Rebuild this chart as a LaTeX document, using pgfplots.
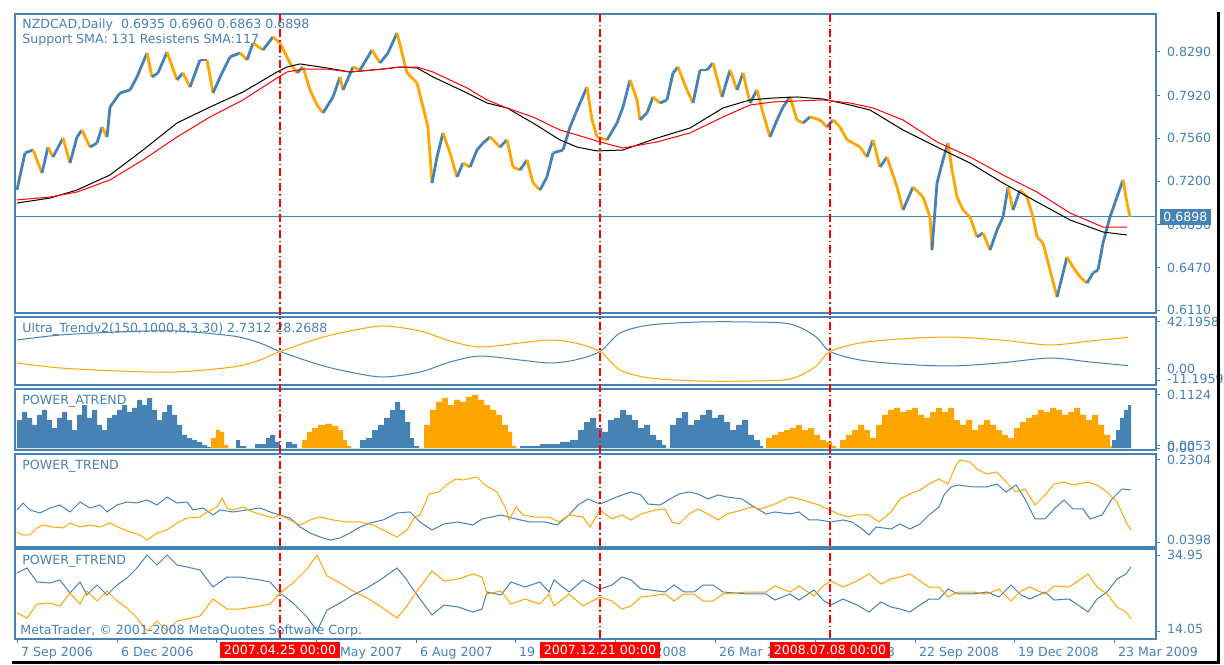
\documentclass[border=0pt]{standalone}
\usepackage{fontspec}
\setmainfont{DejaVu Sans}
\usepackage{pgfplots}
\pgfplotsset{compat=1.18}
\definecolor{mtblue}{RGB}{70,130,180}
\definecolor{mtorange}{RGB}{255,165,0}
\definecolor{mtred}{RGB}{255,0,0}
\newcommand{\mtfont}{\fontsize{6.3}{6}\selectfont}

\pgfplotsset{
  mtpanel/.style={
    scale only axis, width=570.5pt, anchor=north west,
    xmin=15, xmax=1156, xtick=\empty,
    axis line style={mtblue, line width=0.7pt},
    ytick pos=right, tick align=outside, major tick length=2pt,
    tick style={mtblue, line width=0.5pt},
    yticklabel style={font=\mtfont, text=mtblue, anchor=west},
    xticklabel style={font=\mtfont, text=mtblue},
    /pgf/number format/assume math mode=true,
  },
}
\tikzset{ttl/.style={font=\mtfont, text=mtblue, anchor=north west, inner sep=0pt, align=left}}

% price: x = bar position, close, colour flag (1 = falling)
\pgfplotstableread{
x c f
17 0.7124 0
25 0.7437 0
33 0.7462 1
42 0.7268 0
48 0.7487 1
53 0.7403 0
63 0.7563 1
70 0.7352 0
77 0.7572 0
82 0.7631 1
90 0.7487 0
97 0.7521 0
102 0.7656 1
107 0.7572 0
110 0.7825 0
120 0.7944 0
130 0.7969 0
137 0.8079 0
147 0.8282 1
152 0.8079 0
158 0.8113 0
167 0.8290 1
177 0.8054 0
183 0.8113 1
190 0.7994 0
200 0.8223 0
207 0.8223 1
213 0.7944 0
222 0.8113 0
230 0.8248 0
240 0.8282 1
247 0.8223 0
253 0.8366 1
263 0.8307 0
273 0.8417 1
280 0.8366 1
290 0.8197 1
297 0.8113 0
303 0.8163 1
310 0.7969 1
317 0.7842 1
323 0.7775 0
333 0.7910 0
340 0.8079 1
343 0.7969 0
353 0.8163 1
360 0.8138 0
372 0.8307 1
380 0.8197 0
388 0.8282 0
397 0.8451 1
402 0.8282 1
407 0.8113 1
417 0.8028 1
423 0.7825 1
428 0.7656 1
432 0.7183 0
437 0.7403 0
443 0.7606 1
450 0.7437 1
457 0.7234 0
463 0.7352 1
470 0.7318 0
477 0.7462 0
483 0.7521 0
490 0.7572 1
500 0.7487 0
507 0.7547 1
513 0.7318 1
520 0.7293 0
527 0.7378 1
533 0.7183 1
540 0.7124 0
547 0.7234 0
553 0.7437 0
563 0.7462 0
570 0.7656 0
577 0.7800 0
587 0.7994 1
592 0.7716 1
597 0.7572 1
607 0.7547 0
617 0.7690 0
623 0.7825 0
630 0.8054 1
637 0.7885 1
640 0.7716 0
647 0.7775 0
653 0.7910 1
660 0.7859 0
667 0.7885 0
673 0.8113 0
678 0.8163 1
687 0.7969 1
693 0.7859 0
700 0.8138 0
707 0.8138 0
713 0.8197 1
722 0.7910 0
730 0.8138 1
737 0.7969 0
743 0.8113 1
750 0.7859 0
757 0.7969 1
763 0.7775 1
770 0.7572 0
777 0.7716 0
783 0.7825 0
790 0.7910 1
797 0.7716 1
803 0.7690 0
810 0.7741 1
820 0.7716 1
827 0.7656 0
833 0.7716 1
840 0.7656 1
847 0.7547 1
853 0.7521 1
860 0.7487 1
867 0.7403 0
873 0.7547 1
880 0.7318 0
887 0.7403 1
897 0.7149 1
903 0.6955 0
913 0.7149 1
923 0.7065 1
930 0.6896 1
932 0.6617 0
937 0.7183 0
943 0.7378 0
948 0.7521 1
952 0.7293 1
957 0.7065 1
963 0.6955 1
970 0.6896 1
977 0.6727 0
983 0.6761 1
990 0.6617 0
997 0.6786 0
1003 0.6896 0
1008 0.7149 1
1013 0.6955 0
1020 0.7124 1
1027 0.7065 1
1033 0.6896 1
1037 0.6727 1
1043 0.6676 1
1050 0.6448 1
1057 0.6220 0
1062 0.6389 0
1067 0.6558 1
1073 0.6473 1
1080 0.6389 1
1087 0.6338 0
1093 0.6423 0
1098 0.6448 0
1103 0.6676 0
1110 0.6896 0
1117 0.7065 0
1123 0.7209 1
1127 0.7014 1
1130 0.6898 1
}\price

% moving averages: black (support) and red (resistance)
\pgfplotstableread{
x k
17 0.7014
50 0.7056
77 0.7124
110 0.7251
143 0.7462
177 0.7690
210 0.7825
243 0.7952
277 0.8121
287 0.8163
300 0.8189
327 0.8155
350 0.8121
383 0.8146
400 0.8163
417 0.8155
433 0.8079
467 0.7944
487 0.7859
507 0.7817
533 0.7690
560 0.7547
577 0.7487
597 0.7454
623 0.7462
657 0.7563
690 0.7648
723 0.7817
750 0.7885
773 0.7901
797 0.7910
823 0.7893
850 0.7842
870 0.7800
903 0.7631
937 0.7487
970 0.7352
1003 0.7183
1037 0.7023
1070 0.6871
1103 0.6769
1127 0.6744
}\smablack
\pgfplotstableread{
x r
17 0.7040
50 0.7065
77 0.7107
110 0.7209
143 0.7378
177 0.7572
210 0.7741
243 0.7885
277 0.8070
287 0.8121
303 0.8146
327 0.8146
350 0.8121
383 0.8146
400 0.8163
417 0.8163
433 0.8121
467 0.7986
487 0.7885
507 0.7817
533 0.7741
560 0.7631
577 0.7589
600 0.7530
623 0.7479
657 0.7530
690 0.7606
723 0.7741
750 0.7842
773 0.7868
797 0.7876
823 0.7885
850 0.7859
873 0.7817
903 0.7716
937 0.7530
970 0.7403
1003 0.7251
1037 0.7107
1070 0.6930
1103 0.6811
1127 0.6811
}\smared

\pgfplotstableread{
x b o
17 25.9 5.1
60 30.4 0.6
117 33.1 -2.1
175 34.1 -3.1
233 29.5 1.5
260 23.2 7.8
280 15.5 15.5
320 3.3 27.7
350 -3.1 34.1
383 -7.6 38.6
420 -3.1 34.1
450 6.0 25.0
480 11.4 19.6
520 7.8 23.2
550 5.1 25.9
575 7.8 23.2
600 15.5 15.5
620 32.2 -1.2
650 39.5 -8.5
700 42.2 -11.2
750 42.2 -11.2
790 40.4 -9.4
815 29.5 1.5
830 15.5 15.5
860 7.8 23.2
900 4.2 26.8
950 2.4 28.6
1000 5.1 25.9
1050 9.6 21.4
1090 6.0 25.0
1128 2.73 28.27
}\ultra

\pgfplotstableread{
x b o
15 0 0
17 0.059 0
22 0.076 0
27 0.064 0
32 0.049 0
37 0.070 0
42 0.081 0
47 0.059 0
52 0.042 0
57 0.064 0
62 0.076 0
67 0.059 0
72 0.038 0
77 0.070 0
82 0.091 0
87 0.064 0
92 0.081 0
97 0.049 0
102 0.038 0
107 0.064 0
112 0.070 0
117 0.081 0
122 0.091 0
127 0.076 0
132 0.085 0
137 0.102 0
142 0.091 0
147 0.106 0
152 0.081 0
157 0.059 0
162 0.076 0
167 0.091 0
172 0.070 0
177 0.049 0
182 0.028 0
187 0.021 0
192 0.017 0
197 0.013 0
202 0.006 0
207 0.002 0
211 0 0.021
216 0 0.038
220 0 0.034
224 0 0.006
228 0 0
236 0.017 0
240 0.004 0
246 0 0
255 0.008 0
262 0.008 0
266 0.021 0
270 0.028 0
275 0.013 0
280 0 0
286 0.013 0
292 0.008 0
297 0 0
302 0 0.017
307 0 0.034
312 0 0.042
318 0 0.049
325 0 0.051
332 0 0.047
338 0 0.038
343 0 0.017
347 0 0.004
351 0 0
360 0.017 0
366 0.021 0
372 0.038 0
378 0.049 0
384 0.064 0
390 0.081 0
395 0.098 0
400 0.081 0
405 0.055 0
410 0.021 0
414 0.004 0
419 0 0
424 0 0.049
430 0 0.081
436 0 0.098
442 0 0.106
448 0 0.091
454 0 0.102
460 0 0.098
466 0 0.108
472 0 0.112
478 0 0.102
484 0 0.091
490 0 0.081
496 0 0.070
502 0 0.049
508 0 0.034
512 0 0.004
516 0 0
520 0.004 0
540 0.008 0
560 0.013 0
570 0.017 0
578 0.038 0
584 0.055 0
590 0.064 0
596 0.042 0
602 0.034 0
608 0.059 0
614 0.064 0
620 0.081 0
626 0.070 0
632 0.059 0
638 0.042 0
644 0.049 0
650 0.028 0
656 0.017 0
662 0.006 0
666 0 0
670 0.049 0
676 0.064 0
682 0.076 0
688 0.049 0
694 0.059 0
700 0.070 0
706 0.081 0
712 0.064 0
718 0.070 0
724 0.055 0
730 0.038 0
736 0.049 0
742 0.059 0
748 0.028 0
754 0.017 0
760 0.004 0
763 0 0
766 0 0.021
772 0 0.028
778 0 0.034
784 0 0.038
790 0 0.042
796 0 0.049
802 0 0.038
808 0 0.042
814 0 0.028
820 0 0.017
826 0 0.013
832 0 0.004
836 0 0
840 0 0.017
846 0 0.028
852 0 0.038
858 0 0.049
864 0 0.038
870 0 0.021
876 0 0.049
882 0 0.070
888 0 0.081
894 0 0.085
900 0 0.076
906 0 0.081
912 0 0.085
918 0 0.070
924 0 0.064
930 0 0.076
936 0 0.085
942 0 0.076
948 0 0.085
954 0 0.059
960 0 0.049
966 0 0.059
972 0 0.038
978 0 0.049
984 0 0.059
990 0 0.049
996 0 0.038
1002 0 0.028
1008 0 0.021
1014 0 0.042
1020 0 0.055
1026 0 0.064
1032 0 0.070
1038 0 0.081
1044 0 0.076
1050 0 0.085
1056 0 0.081
1062 0 0.070
1068 0 0.076
1074 0 0.085
1080 0 0.070
1086 0 0.059
1092 0 0.070
1098 0 0.049
1104 0 0.028
1110 0 0.004
1112 0.017 0
1116 0.038 0
1120 0.064 0
1124 0.081 0
1128 0.091 0
1131 0.091 0
}\atrend

% POWER_TREND, blue line
\pgfplotstableread{
x v
17 0.1142
23 0.1305
30 0.1142
40 0.1072
50 0.1188
60 0.1258
70 0.1096
80 0.1328
90 0.1188
100 0.1258
107 0.1096
117 0.1258
127 0.1328
137 0.1305
147 0.1374
157 0.1258
167 0.1444
177 0.1305
187 0.1328
193 0.1142
203 0.1188
213 0.1026
220 0.1142
233 0.1096
247 0.1142
260 0.1188
270 0.1096
280 0.1026
290 0.0956
300 0.0747
310 0.0607
320 0.0515
330 0.0445
340 0.0491
350 0.0607
360 0.0747
370 0.0840
383 0.0910
397 0.1072
410 0.1096
420 0.0863
432 0.0677
444 0.0817
458 0.0863
473 0.0793
482 0.0933
501 0.1026
516 0.0933
530 0.0863
545 0.0863
557 0.0793
569 0.1026
578 0.1258
588 0.1398
600 0.1281
612 0.1398
622 0.1491
631 0.1560
641 0.1491
648 0.1281
660 0.1258
670 0.1398
679 0.1514
689 0.1560
698 0.1514
708 0.1398
718 0.1491
727 0.1444
742 0.1398
751 0.1258
766 0.1049
775 0.1096
790 0.1049
799 0.1096
809 0.0910
819 0.0910
831 0.0863
843 0.0910
852 0.0863
862 0.0700
869 0.0561
876 0.0747
891 0.0700
900 0.0817
910 0.0700
920 0.0817
929 0.1026
939 0.1212
944 0.1491
951 0.1677
958 0.1723
973 0.1677
987 0.1677
997 0.1746
1006 0.1560
1016 0.1723
1025 0.1398
1035 0.0933
1045 0.0933
1054 0.1165
1064 0.1374
1073 0.1165
1083 0.1165
1090 0.0933
1102 0.1026
1112 0.1398
1122 0.1630
1131 0.1607
}\ptrendb

% POWER_TREND, orange line
\pgfplotstableread{
x v
17 0.0631
23 0.0561
30 0.0561
37 0.0724
43 0.0793
53 0.0747
63 0.0724
70 0.0840
80 0.0747
90 0.0793
100 0.0747
110 0.0840
120 0.0724
130 0.0631
140 0.0561
147 0.0445
157 0.0607
167 0.0677
177 0.0840
187 0.0956
200 0.0979
207 0.1096
217 0.1212
222 0.1421
227 0.1188
233 0.1142
243 0.1212
253 0.1096
263 0.1026
273 0.0956
280 0.1026
290 0.0910
300 0.0793
310 0.0910
320 0.0979
333 0.0910
347 0.0863
360 0.0863
373 0.0793
387 0.0631
397 0.0515
407 0.0677
415 0.0979
420 0.1026
429 0.1514
439 0.1560
446 0.1723
456 0.1862
463 0.1839
477 0.1909
485 0.1723
497 0.1560
506 0.1165
509 0.0910
516 0.1212
523 0.1026
535 0.0979
549 0.0979
559 0.0863
569 0.1026
583 0.0979
590 0.0747
600 0.1142
612 0.0933
622 0.1026
631 0.0910
641 0.1049
655 0.1142
665 0.1165
672 0.0863
679 0.0817
689 0.1049
698 0.1165
708 0.1049
718 0.0910
727 0.1049
742 0.1142
751 0.1212
761 0.1165
775 0.1281
790 0.1444
799 0.1398
809 0.1328
819 0.1258
828 0.1165
838 0.1049
848 0.0979
857 0.1026
869 0.1026
879 0.0863
891 0.1096
900 0.1398
910 0.1514
920 0.1607
929 0.1746
939 0.1862
948 0.1746
956 0.2188
960 0.2304
970 0.2258
977 0.2095
987 0.1979
997 0.2025
1006 0.1793
1016 0.1560
1025 0.1630
1035 0.1258
1045 0.1491
1054 0.1746
1064 0.1793
1073 0.1723
1088 0.1793
1097 0.1723
1107 0.1560
1117 0.1328
1126 0.0863
1131 0.0677
}\ptrendo

\pgfplotstableread{
x b o
17 30.00 19.00
27 31.38 17.62
37 27.53 21.47
50 27.25 21.75
60 28.08 20.92
70 24.50 24.50
80 27.53 21.47
87 23.95 25.05
97 26.70 22.30
107 23.95 25.05
117 26.70 22.30
127 28.63 20.37
137 31.38 17.62
147 34.95 14.05
157 32.20 16.80
167 34.95 14.05
177 32.20 16.80
187 31.65 17.35
200 30.83 18.17
213 26.15 22.85
227 28.90 20.10
240 28.90 20.10
260 28.08 20.92
270 27.53 21.47
280 24.50 24.50
293 21.75 27.25
307 17.90 31.10
317 14.05 34.95
327 19.82 29.18
340 21.75 27.25
353 23.95 25.05
367 25.88 23.12
380 28.08 20.92
397 31.38 17.62
407 28.08 20.92
410 26.70 22.30
420 22.85 26.15
432 18.45 30.55
444 21.20 27.80
458 20.65 28.35
473 19.27 29.73
482 20.10 28.90
487 24.78 24.22
501 23.95 25.05
511 27.53 21.47
525 26.15 22.85
540 27.53 21.47
549 24.78 24.22
554 28.08 20.92
569 24.78 24.22
583 28.08 20.92
600 25.60 23.40
612 26.70 22.30
622 28.90 20.10
631 28.08 20.92
641 25.60 23.40
650 25.33 23.67
665 24.78 24.22
674 26.70 22.30
684 24.78 24.22
694 24.78 24.22
703 26.70 22.30
713 26.70 22.30
723 24.78 24.22
747 24.23 24.77
766 24.23 24.77
775 22.57 26.43
790 24.23 24.77
799 22.57 26.43
814 25.33 23.67
823 22.57 26.43
831 21.20 27.80
843 22.85 26.15
857 21.20 27.80
869 19.27 29.73
881 22.02 26.98
891 20.65 28.35
900 20.10 28.90
910 19.27 29.73
920 21.20 27.80
929 22.85 26.15
939 22.85 26.15
948 25.60 23.40
958 24.23 24.77
973 24.23 24.77
987 24.78 24.22
999 23.40 25.60
1011 26.70 22.30
1021 23.95 25.05
1030 22.85 26.15
1045 24.78 24.22
1054 22.57 26.43
1069 22.85 26.15
1078 21.20 27.80
1088 19.27 29.73
1097 22.85 26.15
1107 24.78 24.22
1117 28.35 20.65
1126 29.73 19.27
1131 31.65 17.35
}\ftrend

\begin{document}
\begin{tikzpicture}
\useasboundingbox[fill=white] (0pt,0pt) rectangle (612pt,332pt);

% main price window
\begin{axis}[mtpanel, at={(7.5pt,325pt)}, height=149.5pt,
  ymin=0.6085, ymax=0.8611,
  ytick={0.611,0.647,0.683,0.720,0.756,0.792,0.829},
  yticklabels={0.6110,0.6470,0.6830,0.7200,0.7560,0.7920,0.8290},
  colormap={bo}{color=(mtblue) color=(mtorange)}]
\addplot[mtblue, line width=0.5pt] coordinates {(15,0.6898) (1156,0.6898)};
\addplot[mesh, shader=flat corner, point meta=explicit, line width=1.4pt]
  table[x=x, y=c, meta=f] {\price};
\addplot[black, line width=0.5pt] table[x=x, y=k] {\smablack};
\addplot[mtred, line width=0.5pt] table[x=x, y=r] {\smared};
\node[ttl] at ([xshift=3.5pt,yshift=-2.5pt]rel axis cs:0,1)
  {NZDCAD,Daily\ \ 0.6935 0.6960 0.6863 0.6898\\Support SMA: 131 Resistens SMA:117};
\coordinate (t1) at (axis cs:280,0.8611);
\coordinate (t2) at (axis cs:600,0.8611);
\coordinate (t3) at (axis cs:830,0.8611);
\coordinate (last) at (axis cs:1156,0.6898);
\end{axis}

% Ultra_Trend window
\begin{axis}[mtpanel, at={(7.5pt,173.5pt)}, height=34pt,
  ymin=-14.82, ymax=46.72,
  ytick={-11.1959,0,42.1958},
  yticklabels={\raisebox{2.5pt}{-11.1959},0.00,\raisebox{-2pt}{42.1958}}]
\node[ttl] at ([xshift=3.5pt,yshift=-3pt]rel axis cs:0,1)
  {Ultra\_Trendv2(150,1000,8,3,30) 2.7312 28.2688};
\addplot[mtblue, line width=0.5pt, smooth] table[x=x, y=b] {\ultra};
\addplot[mtorange, line width=0.5pt, smooth] table[x=x, y=o] {\ultra};
\end{axis}

% POWER_ATREND window
\begin{axis}[mtpanel, at={(7.5pt,137.5pt)}, height=30.5pt,
  ymin=-0.0042, ymax=0.1251,
  ytick={0,0.0053,0.1124},
  yticklabels={0.00,0.0053,\raisebox{-1.5pt}{0.1124}}]
\addplot[const plot, fill=mtblue, draw=none] table[x=x, y=b] {\atrend} \closedcycle;
\addplot[const plot, fill=mtorange, draw=none] table[x=x, y=o] {\atrend} \closedcycle;
\node[ttl] at ([xshift=3.5pt,yshift=-3pt]rel axis cs:0,1) {POWER\_ATREND};
\end{axis}

% POWER_TREND window
\begin{axis}[mtpanel, at={(7.5pt,105pt)}, height=46.5pt,
  ymin=0.0282, ymax=0.2443,
  ytick={0.0398,0.2304},
  yticklabels={\raisebox{2pt}{0.0398},\raisebox{-2pt}{0.2304}}]
\node[ttl] at ([xshift=3.5pt,yshift=-3pt]rel axis cs:0,1) {POWER\_TREND};
\addplot[mtblue, line width=0.5pt] table[x=x, y=v] {\ptrendb};
\addplot[mtorange, line width=0.5pt] table[x=x, y=v] {\ptrendo};
\end{axis}

% POWER_FTREND window
\begin{axis}[mtpanel, at={(7.5pt,57.5pt)}, height=45pt,
  ymin=11.85, ymax=36.6,
  ytick={14.05,34.95},
  yticklabels={\raisebox{2pt}{14.05},\raisebox{-2pt}{34.95}},
  xtick={17,117,216,316,416,515,615,715,815,915,1014,1114},
  xticklabels={7 Sep 2006,6 Dec 2006,7 Mar 2007,22 May 2007,6 Aug 2007,19 Oct 2007,7 Jan 2008,26 Mar 2008,24 Jun 2008,22 Sep 2008,19 Dec 2008,23 Mar 2009},
  xtick pos=bottom,
  xticklabel style={anchor=north west, xshift=-1.5pt, yshift=1.5pt}]
\node[ttl] at ([xshift=3.5pt,yshift=-3pt]rel axis cs:0,1) {POWER\_FTREND};
\addplot[mtblue, line width=0.5pt] table[x=x, y=b] {\ftrend};
\addplot[mtorange, line width=0.5pt] table[x=x, y=o] {\ftrend};
\node[ttl, anchor=south west] at ([xshift=2.5pt,yshift=0.8pt]rel axis cs:0,0)
  {MetaTrader, © 2001-2008 MetaQuotes Software Corp.};
\coordinate (b1) at (axis cs:280,11.85);
\coordinate (b2) at (axis cs:600,11.85);
\coordinate (b3) at (axis cs:830,11.85);
\end{axis}

% vertical markers and their date boxes
\foreach \i in {1,2,3}
  \draw[mtred, line width=0.7pt, dash pattern=on 4pt off 1.5pt on 0.7pt off 1.5pt] (t\i) -- (b\i);
\foreach \i/\d in {1/2007.04.25 00:00, 2/2007.12.21 00:00, 3/2008.07.08 00:00}
  \node[fill=mtred, text=white, font=\mtfont, anchor=north, inner xsep=2pt,
        minimum height=8pt, inner ysep=0pt] at ([yshift=-1.5pt]b\i) {\d};
\node[fill=mtblue, text=white, font=\mtfont, anchor=west, inner xsep=1.5pt,
      minimum height=8pt, inner ysep=0pt] at ([xshift=2pt]last) {0.6898};

% window shadow
\draw[black, line width=1.5pt] (609pt,326pt) -- (609pt,1pt) -- (6pt,1pt);
\end{tikzpicture}
\end{document}
